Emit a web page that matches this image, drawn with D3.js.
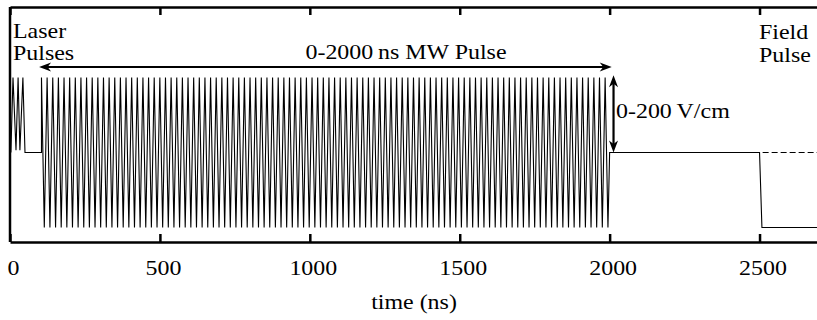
<!DOCTYPE html>
<html>
<head>
<meta charset="utf-8">
<script src="https://cdn.jsdelivr.net/npm/d3@7"></script>
<style>
  body { margin: 0; background: #fff; }
  svg { display: block; }
  text { font-family: "Liberation Serif", "Times New Roman", Times, serif; font-size: 21px; fill: #000; }
  .axis path, .axis line { stroke: #000; stroke-width: 2.5; }
  .trace { fill: none; stroke: #000; stroke-width: 1.1; }
  .dashed { fill: none; stroke: #000; stroke-width: 1; stroke-dasharray: 6,3; }
  .arrow { stroke: #000; stroke-width: 2.2; }
  .head { fill: #000; }
</style>
</head>
<body>
<div id="plot"></div>
<script>
// Tick values of the time axis (ns)
var tickValues = [0, 500, 1000, 1500, 2000, 2500];

// Laser pulses: [time ns, relative field]
var laserTrace = [[3, 0], [10, 1], [20, 0.03], [27, 1], [33, 0.03], [43, 1], [50, 0]];

// MW pulse: start, end, period (ns)
var mwStart = 105,
    mwEnd = 2000,
    mwPeriod = 18.8;

// Field pulse: [time ns, relative field]
var fieldTrace = [[2000, 0], [2500, 0], [2508, -1], [2700, -1]];
var zeroRef = [[2000, 0], [2700, 0]];

// Annotation arrows: [t1, v1, t2, v2]
var mwArrow = [97, 1.14, 2007, 1.14];
var ampArrow = [2013, 0, 2013, 1.03];

var width = 817,
    height = 320;

var x = d3.scaleLinear().domain([0, 2700]).range([10, 819.5]);
var y = d3.scaleLinear().domain([-1, 1]).range([227.5, 77.5]);

var svg = d3.select('#plot')
    .append('svg')
    .attr('width', width)
    .attr('height', height);

// build MW zigzag from the pulse timing
var mwTrace = [[mwStart, 0], [mwStart, 1]];
for (var k = 1; mwStart + k * mwPeriod / 2 < mwEnd; k++) {
    mwTrace.push([mwStart + k * mwPeriod / 2, k % 2 ? -1 : 1]);
}
mwTrace.push([mwEnd, 0]);

var fullTrace = laserTrace.concat([[mwStart, 0]]).concat(mwTrace).concat(fieldTrace);

var line = d3.line()
    .x(function(d) { return x(d[0]); })
    .y(function(d) { return y(d[1]); });

svg.append('path')
    .attr('class', 'dashed')
    .attr('d', line(zeroRef));

svg.append('path')
    .attr('class', 'trace')
    .attr('d', line(fullTrace));

// Axes (frame)
var bottom = svg.append('g')
    .attr('class', 'axis')
    .attr('transform', 'translate(0,242)')
    .call(d3.axisBottom(x).tickValues(tickValues).tickFormat(d3.format('d'))
        .tickSize(-8).tickSizeOuter(0).tickPadding(18));

bottom.attr('font-size', null).attr('font-family', null);
bottom.selectAll('text')
    .attr('transform', 'translate(3,0) scale(1.14,1)');

svg.append('g')
    .attr('class', 'axis')
    .attr('transform', 'translate(0,7)')
    .call(d3.axisTop(x).tickValues(tickValues).tickSize(-8).tickSizeOuter(0).tickFormat(''));

svg.append('line')
    .attr('x1', x(0)).attr('x2', x(0))
    .attr('y1', 7).attr('y2', 242)
    .attr('stroke', '#000').attr('stroke-width', 2.5);

// Arrows
function head(tx, ty, angle) {
    svg.append('path')
        .attr('class', 'head')
        .attr('transform', 'translate(' + tx + ',' + ty + ') rotate(' + angle + ')')
        .attr('d', 'M0,0L-12,-4.5L-8.5,0L-12,4.5Z');
}

function doubleArrow(a) {
    var x1 = x(a[0]), y1 = y(a[1]), x2 = x(a[2]), y2 = y(a[3]);
    var ang = Math.atan2(y2 - y1, x2 - x1);
    svg.append('line')
        .attr('class', 'arrow')
        .attr('x1', x1 + 8 * Math.cos(ang)).attr('y1', y1 + 8 * Math.sin(ang))
        .attr('x2', x2 - 8 * Math.cos(ang)).attr('y2', y2 - 8 * Math.sin(ang));
    head(x2, y2, ang * 180 / Math.PI);
    head(x1, y1, ang * 180 / Math.PI + 180);
}

doubleArrow(mwArrow);
doubleArrow(ampArrow);

// Text
function label(str, px, py, anchor) {
    svg.append('text')
        .attr('transform', 'translate(' + px + ',' + py + ') scale(1.14,1)')
        .attr('text-anchor', anchor || 'start')
        .text(str);
}

label('Laser', 13, 38);
label('Pulses', 13, 60);
label('0-2000\u2009ns MW Pulse', 406, 59, 'middle');
label('0-200\u2009V/cm', 616, 118);
label('Field', 759, 39);
label('Pulse', 759, 62);
label('time (ns)', 414, 309, 'middle');
</script>
</body>
</html>
